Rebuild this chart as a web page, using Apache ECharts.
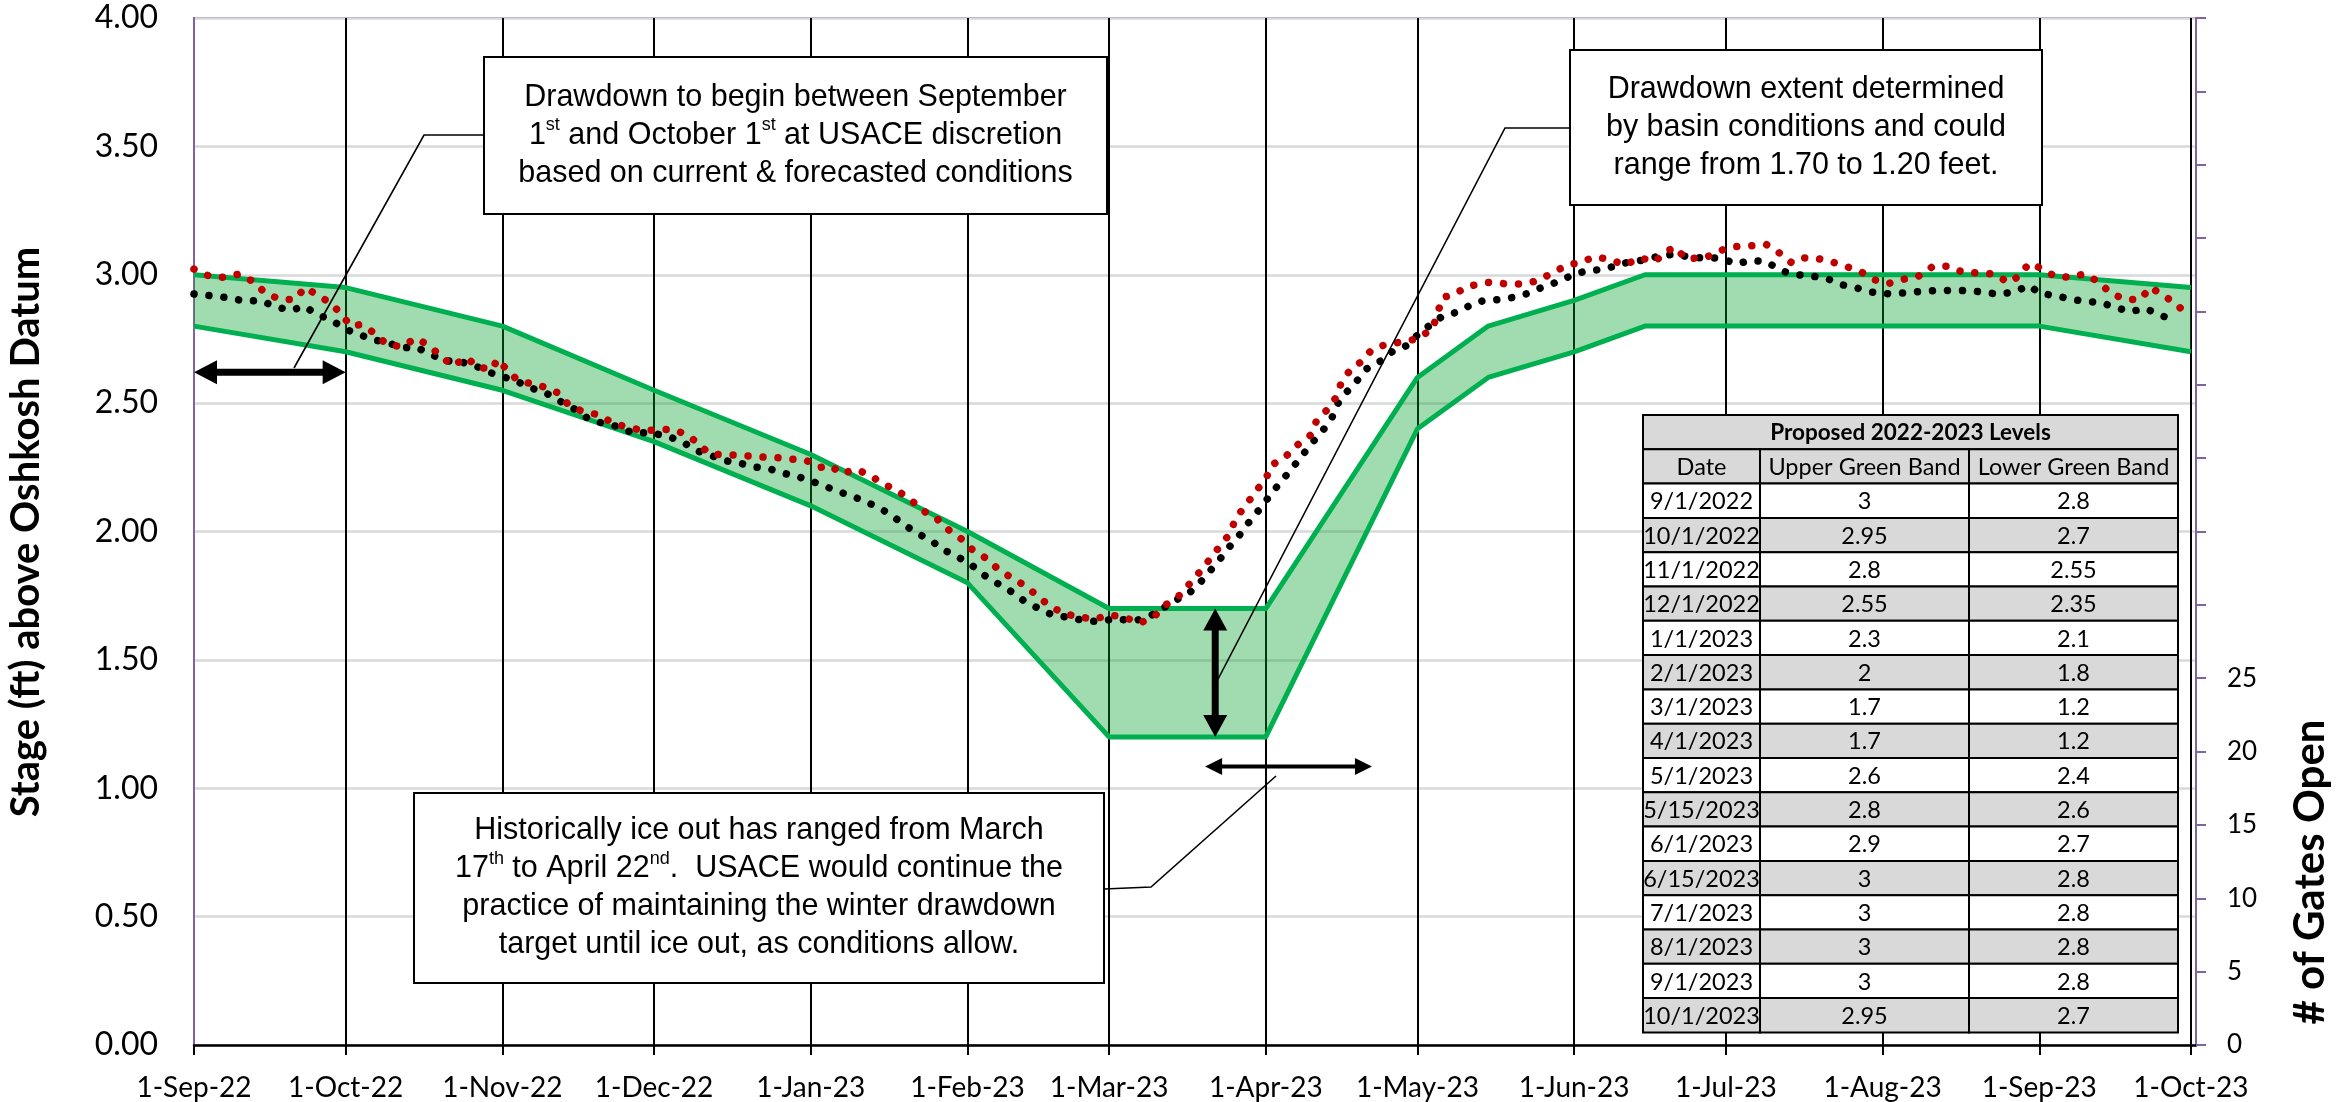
<!DOCTYPE html>
<html>
<head>
<meta charset="utf-8">
<script src="https://cdn.jsdelivr.net/npm/echarts@6/dist/echarts.min.js"></script>
<style>
html,body{margin:0;padding:0;background:#fff}
#chart{width:2351px;height:1102px}
</style>
</head>
<body>
<div id="chart"></div>
<script>
// proposed band (same values as the table)
var bandDates = ['9/1/2022','10/1/2022','11/1/2022','12/1/2022','1/1/2023','2/1/2023','3/1/2023','4/1/2023',
                 '5/1/2023','5/15/2023','6/1/2023','6/15/2023','7/1/2023','8/1/2023','9/1/2023','10/1/2023']
var upperBand = [3, 2.95, 2.8, 2.55, 2.3, 2, 1.7, 1.7, 2.6, 2.8, 2.9, 3, 3, 3, 3, 2.95]
var lowerBand = [2.8, 2.7, 2.55, 2.35, 2.1, 1.8, 1.2, 1.2, 2.4, 2.6, 2.7, 2.8, 2.8, 2.8, 2.8, 2.7]

var monthTicks = ['9/1/2022','10/1/2022','11/1/2022','12/1/2022','1/1/2023','2/1/2023','3/1/2023',
                  '4/1/2023','5/1/2023','6/1/2023','7/1/2023','8/1/2023','9/1/2023','10/1/2023']
var monthNames = ['Jan','Feb','Mar','Apr','May','Jun','Jul','Aug','Sep','Oct','Nov','Dec']

// days after 1-Sep-22 and stage (ft)
var blackDays = [0,4,7,10,13,16,19,22,24,27,30,33,35,38,41,44,47,50,53,56,59,61,64,67,70,73,76,78,81,84,87,90,94,97,
  99,102,105,108,111,114,117,120,123,126,129,132,135,138,140,143,146,148,151,154,156,159,162,164,167,170,173,176,179,
  182,186,189,191,194,197,199,201,203,205,207,209,211,213,215,217,219,221,223,225,226,228,230,232,235,237,240,242,
  245,247,250,253,255,258,261,264,267,270,273,276,279,282,285,287,290,293,296,299,302,305,308,311,314,317,320,323,
  326,329,332,335,338,341,344,347,351,354,357,360,363,365,368,371,374,377,380,383,386,389,392]
var blackStage = [2.925,2.917,2.91,2.897,2.90,2.877,2.861,2.877,2.847,2.826,2.787,2.766,2.748,2.738,2.716,2.717,2.688,
  2.665,2.66,2.642,2.616,2.604,2.583,2.557,2.535,2.501,2.469,2.439,2.421,2.408,2.382,2.386,2.369,2.345,
  2.317,2.298,2.276,2.266,2.251,2.243,2.225,2.210,2.190,2.167,2.145,2.124,2.097,2.064,2.032,1.994,1.962,1.931,1.902,
  1.866,1.833,1.797,1.762,1.732,1.701,1.673,1.666,1.653,1.649,1.660,1.652,1.669,1.693,1.730,1.763,1.801,1.847,1.894,
  1.945,1.991,2.045,2.092,2.145,2.194,2.241,2.291,2.342,2.386,2.438,2.492,2.543,2.586,2.634,2.667,2.700,2.725,2.765,
  2.812,2.839,2.855,2.887,2.899,2.903,2.912,2.928,2.954,2.974,3.003,3.017,3.021,3.041,3.054,3.057,3.074,3.080,3.068,
  3.065,3.065,3.042,3.056,3.051,3.015,3.000,2.995,2.985,2.961,2.948,2.932,2.926,2.929,2.934,2.938,2.939,2.938,2.932,
  2.924,2.933,2.958,2.929,2.918,2.907,2.895,2.893,2.873,2.856,2.869,2.841,2.825]

var redDays = [0,3,6,9,12,14,17,20,22,24,27,29,31,33,36,38,41,44,46,49,51,54,56,59,60,62,64,66,69,72,74,77,80,83,86,
  89,92,95,98,100,102,105,108,111,115,118,121,124,126,128,131,134,136,139,142,144,147,149,152,154,157,159,162,165,
  167,170,172,175,178,181,184,187,190,192,195,197,199,201,203,205,206,208,210,212,213,216,218,221,222,224,226,227,
  229,231,233,236,239,242,245,246,247,249,252,256,260,263,266,269,272,274,277,280,283,286,289,291,293,295,299,301,
  304,308,311,313,316,318,321,324,327,330,332,335,338,341,344,347,350,353,356,359,361,363,366,368,371,374,377,379,
  382,385,387,389,392,394]
var redStage = [3.022,2.995,2.99,3.003,2.97,2.93,2.904,2.904,2.951,2.925,2.89,2.85,2.80,2.806,2.769,2.73,2.72,2.753,
  2.729,2.683,2.645,2.677,2.64,2.632,2.671,2.628,2.589,2.579,2.564,2.54,2.495,2.466,2.455,2.421,2.405,2.392,2.397,
  2.397,2.371,2.337,2.302,2.298,2.298,2.291,2.288,2.282,2.278,2.250,2.256,2.225,2.242,2.216,2.188,2.161,2.120,2.083,
  2.049,2.010,1.968,1.928,1.892,1.854,1.816,1.782,1.743,1.703,1.680,1.668,1.658,1.675,1.667,1.642,1.670,1.711,1.752,
  1.798,1.844,1.894,1.945,1.994,2.051,2.100,2.157,2.203,2.256,2.293,2.333,2.377,2.430,2.471,2.525,2.584,2.637,2.662,
  2.709,2.730,2.738,2.751,2.790,2.852,2.912,2.921,2.955,2.970,2.964,2.964,2.978,3.011,3.041,3.045,3.070,3.060,3.038,
  3.066,3.051,3.089,3.108,3.063,3.066,3.087,3.109,3.113,3.118,3.094,3.047,3.066,3.064,3.050,3.031,3.008,2.983,2.965,
  2.982,2.993,3.033,3.033,3.009,3.007,3.003,2.969,2.995,3.045,3.020,2.994,2.990,3.003,2.969,2.929,2.904,2.904,2.952,
  2.925,2.889,2.847]

var gatesMax = 70, gatesLabelMax = 25

function dayToTime(d){ return new Date(2022, 8, 1 + d).getTime() }
function parseMDY(s){ var p = s.split('/'); return new Date(+p[2], +p[0] - 1, +p[1]).getTime() }
function fmtDate(v){ var d = new Date(v); return d.getDate() + '-' + monthNames[d.getMonth()] + '-' + String(d.getFullYear()).slice(2) }

var bandTimes = bandDates.map(parseMDY)
var bandRows = bandTimes.map(function(t, i){ return [t, lowerBand[i], upperBand[i]] })
var lowerData = bandTimes.map(function(t, i){ return [t, lowerBand[i]] })
var upperData = bandTimes.map(function(t, i){ return [t, upperBand[i]] })
var blackData = blackDays.map(function(d, i){ return [dayToTime(d), blackStage[i]] })
var redData = redDays.map(function(d, i){ return [dayToTime(d), redStage[i]] })
var monthValues = monthTicks.map(parseMDY)

var PURPLE = '#8064a2', GREEN = '#00b050'
var chart = echarts.init(document.getElementById('chart'))

var option = {
    animation: false,
    grid: { left: 194, right: 155, top: 18, bottom: 57, show: true, borderColor: PURPLE, borderWidth: 2, outerBoundsMode: 'none' },
    xAxis: {
        type: 'value',
        min: parseMDY('9/1/2022'),
        max: parseMDY('10/2/2023'),
        axisLine: { lineStyle: { color: '#000', width: 2.5 } },
        axisTick: { show: true, customValues: monthValues, length: 10, lineStyle: { color: '#000', width: 2 } },
        axisLabel: { customValues: monthValues, formatter: fmtDate, fontFamily: 'Lato', fontSize: 28, color: '#000', margin: 29, hideOverlap: false },
        splitLine: { show: true, lineStyle: { color: '#000', width: 2 } }
    },
    yAxis: [{
        type: 'value', min: 0, max: 4, interval: 0.5,
        axisLine: { show: true, lineStyle: { color: PURPLE, width: 2 } },
        axisTick: { show: false },
        axisLabel: { formatter: function(v){ return v.toFixed(2) }, fontFamily: 'Lato', fontSize: 32, color: '#000', margin: 36 },
        splitLine: { show: true, lineStyle: { color: '#d9d9d9', width: 2.5 } }
    }, {
        type: 'value', min: 0, max: gatesMax, interval: 5, position: 'right',
        axisLine: { show: true, lineStyle: { color: PURPLE, width: 2 } },
        axisTick: { show: true, inside: false, length: 10, lineStyle: { color: PURPLE, width: 2 } },
        axisLabel: { formatter: function(v){ return v <= gatesLabelMax ? String(v) : '' }, fontFamily: 'Lato', fontSize: 26, color: '#000', margin: 31 },
        splitLine: { show: false }
    }],
    series: [{
        // green fill between the lower and upper band
        name: 'band', type: 'custom', data: bandRows, z: 2, silent: true,
        encode: { x: 0, y: [1, 2] },
        renderItem: function(params, api){
            if (params.dataIndex !== 0) return null
            var top = [], bottom = []
            for (var i = 0; i < bandRows.length; i++) {
                top.push(api.coord([bandRows[i][0], bandRows[i][2]]))
                bottom.unshift(api.coord([bandRows[i][0], bandRows[i][1]]))
            }
            return { type: 'polygon', shape: { points: top.concat(bottom) }, style: { fill: 'rgba(0,160,40,0.37)' } }
        }
    }, {
        name: 'Lower Green Band', type: 'line', data: lowerData, symbol: 'none', z: 3,
        lineStyle: { color: GREEN, width: 5, join: 'round' }
    }, {
        name: 'Upper Green Band', type: 'line', data: upperData, symbol: 'none', z: 3,
        lineStyle: { color: GREEN, width: 5, join: 'round' }
    }, {
        name: 'black', type: 'line', data: blackData, symbol: 'none', z: 4,
        lineStyle: { color: '#000', width: 7.5, type: [0.01, 15], cap: 'round' }
    }, {
        name: 'red', type: 'line', data: redData, symbol: 'none', z: 5,
        lineStyle: { color: '#c00000', width: 7.5, type: [0.01, 15], cap: 'round' }
    }]
}
chart.setOption(option)

function px(dateStr, v){ return chart.convertToPixel({ xAxisIndex: 0, yAxisIndex: 0 }, [parseMDY(dateStr), v]) }

function doubleArrow(p1, p2, shaft, headLen, headHalf){
    var dx = p2[0] - p1[0], dy = p2[1] - p1[1], len = Math.sqrt(dx*dx + dy*dy)
    var ux = dx/len, uy = dy/len, nx = -uy, ny = ux
    function pt(t, w){ return [p1[0] + ux*t + nx*w, p1[1] + uy*t + ny*w] }
    return {
        type: 'polygon', z: 120,
        shape: { points: [pt(0,0), pt(headLen, headHalf), pt(headLen, shaft/2), pt(len-headLen, shaft/2), pt(len-headLen, headHalf),
                          pt(len,0), pt(len-headLen,-headHalf), pt(len-headLen,-shaft/2), pt(headLen,-shaft/2), pt(headLen,-headHalf)] },
        style: { fill: '#000' }
    }
}
function leader(points){ return { type: 'polyline', z: 119, shape: { points: points }, style: { stroke: '#000', lineWidth: 1.6, fill: null } } }

var boxFont = { fontFamily: 'Liberation Sans', fontSize: 30.5, lineHeight: 38 }
function noteBox(x, y, w, h, text){
    return [{
        type: 'rect', z: 121, shape: { x: x, y: y, width: w, height: h },
        style: { fill: '#fff', stroke: '#000', lineWidth: 2 }
    }, {
        type: 'text', z: 122, x: x + w/2, y: y + h/2,
        style: {
            text: text, fill: '#000', fontFamily: boxFont.fontFamily, fontSize: boxFont.fontSize, lineHeight: boxFont.lineHeight,
            align: 'center', verticalAlign: 'middle',
            rich: { s: { fontFamily: boxFont.fontFamily, fontSize: 18, verticalAlign: 'top', lineHeight: 30 } }
        }
    }]
}

// table built from the band arrays
function tableElems(){
    var cols = [1643, 1760, 1969, 2178], top = 415, rowH = 34.3, gray = '#d9d9d9'
    var els = []
    function cell(x0, x1, y0, fill, text, bold, size){
        els.push({ type: 'rect', z: 110, shape: { x: x0, y: y0, width: x1 - x0, height: rowH }, style: { fill: fill, stroke: '#000', lineWidth: 2 } })
        els.push({ type: 'text', z: 111, x: (x0 + x1)/2, y: y0 + rowH/2 + 1,
            style: { text: text, fill: '#000', fontFamily: 'Lato', fontSize: size || 23.5, fontWeight: bold ? 'bold' : 'normal', align: 'center', verticalAlign: 'middle' } })
    }
    cell(cols[0], cols[3], top, gray, 'Proposed 2022-2023 Levels', true, 22.5)
    var hdr = ['Date', 'Upper Green Band', 'Lower Green Band']
    for (var c = 0; c < 3; c++) cell(cols[c], cols[c+1], top + rowH, gray, hdr[c])
    for (var r = 0; r < bandDates.length; r++) {
        var y0 = top + rowH * (r + 2), fill = r % 2 ? gray : '#fff'
        cell(cols[0], cols[1], y0, fill, bandDates[r])
        cell(cols[1], cols[2], y0, fill, String(upperBand[r]))
        cell(cols[2], cols[3], y0, fill, String(lowerBand[r]))
    }
    return els
}

var g = []
g.push({ type: 'text', z: 130, x: 26, y: 532, rotation: Math.PI/2,
    style: { text: 'Stage (ft) above Oshkosh Datum', fill: '#000', fontFamily: 'Lato', fontWeight: 'bold', fontSize: 40, align: 'center', verticalAlign: 'middle' } })
g.push({ type: 'text', z: 130, x: 2310, y: 872, rotation: Math.PI/2,
    style: { text: '# of Gates Open', fill: '#000', fontFamily: 'Lato', fontWeight: 'bold', fontSize: 42, align: 'center', verticalAlign: 'middle' } })
g = g.concat(tableElems())
g.push(leader([[483, 135], [424, 135], [294, 368]]))
g.push(leader([[1570, 128], [1505, 128], [1216, 683]]))
g.push(leader([[1104, 889], [1151, 887], [1276, 776]]))
g.push(doubleArrow(px('9/1/2022', 2.62), px('10/1/2022', 2.62), 7, 23, 12))
g.push(doubleArrow(px('3/22/2023', 1.7), px('3/22/2023', 1.2), 7, 22, 12))
g.push(doubleArrow(px('3/20/2023', 1.085), px('4/22/2023', 1.085), 4, 17, 8.5))
g = g.concat(noteBox(484, 57, 623, 157,
    'Drawdown to begin between September\n1{s|st} and October 1{s|st} at USACE discretion\nbased on current & forecasted conditions'))
g = g.concat(noteBox(1570, 50, 472, 155,
    'Drawdown extent determined\nby basin conditions and could\nrange from 1.70 to 1.20 feet.'))
g = g.concat(noteBox(414, 793, 690, 190,
    'Historically ice out has ranged from March\n17{s|th} to April 22{s|nd}.  USACE would continue the\npractice of maintaining the winter drawdown\ntarget until ice out, as conditions allow.'))

chart.setOption({ graphic: g })
</script>
</body>
</html>
